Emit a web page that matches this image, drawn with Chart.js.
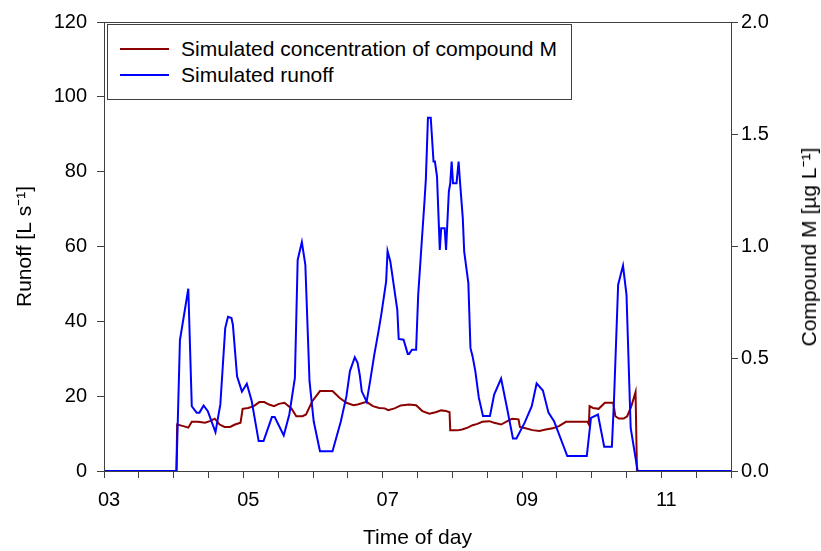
<!DOCTYPE html>
<html>
<head>
<meta charset="utf-8">
<script src="https://cdn.jsdelivr.net/npm/chart.js@4.4.1/dist/chart.umd.min.js"></script>
<style>
  html, body { margin: 0; padding: 0; background: #fff; }
  #wrap { position: relative; width: 821px; height: 551px; font-family: 'Liberation Sans', Arial, sans-serif; }
  #legend { position: absolute; left: 107px; top: 24px; width: 465px; height: 76px; border: 1px solid #404040; box-sizing: border-box; background: #fff; }
  .item { position: absolute; left: 12px; font-size: 21px; color: #000; line-height: 24px; }
  .item span.swatch { position: absolute; left: 0; top: 11px; width: 49px; height: 2px; }
  .item span.txt { position: absolute; left: 61px; top: 0; white-space: nowrap; }
  #rtitle { position: absolute; left: 808px; top: 247px; transform: translate(-50%, -50%) rotate(-90deg); font-size: 21px; color: #000; white-space: nowrap; }
</style>
</head>
<body>
<div id="wrap">
  <canvas id="chart" width="821" height="551"></canvas>
  <div id="legend">
    <div class="item" style="top:12px"><span class="swatch" style="background:#8b0000"></span><span class="txt">Simulated concentration of compound M</span></div>
    <div class="item" style="top:38px"><span class="swatch" style="background:#0000ff"></span><span class="txt">Simulated runoff</span></div>
  </div>
  <div id="rtitle">Compound M [µg L⁻¹]</div>
</div>
<script>
// time of day in hours, runoff in L/s
const runoffTimes = [3.0, 4.04, 4.09, 4.21, 4.26, 4.33, 4.37, 4.43, 4.49, 4.60, 4.67, 4.74, 4.78, 4.83, 4.85, 4.91, 4.98, 5.05, 5.12, 5.22,
  5.29, 5.41, 5.45, 5.58, 5.66, 5.74, 5.78, 5.84, 5.89, 5.95, 6.01, 6.10, 6.28, 6.40, 6.48, 6.53, 6.60, 6.64, 6.67, 6.70,
  6.77, 6.82, 6.88, 6.94, 6.98, 7.05, 7.07, 7.11, 7.21, 7.23, 7.30, 7.36, 7.38, 7.42, 7.48, 7.51, 7.56, 7.60, 7.62, 7.65,
  7.69, 7.73, 7.75, 7.78, 7.82, 7.84, 7.89, 7.91, 7.95, 7.97, 7.99, 8.01, 8.06, 8.09, 8.11, 8.15, 8.17, 8.23, 8.26, 8.29,
  8.33, 8.38, 8.44, 8.54, 8.60, 8.70, 8.78, 8.87, 8.92, 9.04, 9.14, 9.21, 9.30, 9.38, 9.46, 9.65, 9.93, 9.99, 10.09, 10.18,
  10.29, 10.32, 10.38, 10.45, 10.50, 10.56, 10.66, 12.0];
const runoff = [0, 0, 35, 48.7, 17.3, 15.6, 15.6, 17.5, 16, 10.4, 17.8, 38.2, 41.2, 40.9, 39.1, 25.3, 21.2, 23.3, 18.7, 8,
  8, 14.4, 14.4, 9.5, 15.1, 24.9, 56.4, 61.2, 55.1, 24, 13.3, 5.3, 5.3, 13.3, 20, 26.7, 30.4, 28.9, 25.8, 21.3,
  18.5, 24, 31.1, 37.3, 41.8, 50.7, 58.8, 56, 43.1, 35.3, 35.1, 31.3, 31.3, 32.4, 32.4, 47.1, 61, 72, 78, 94.4,
  94.4, 82.7, 82.7, 78.7, 59.1, 64.9, 64.9, 59.1, 74.7, 76.9, 82.7, 76.9, 76.9, 82.7, 77.3, 67.6, 58.7, 50.2, 32.9, 30.7,
  26.7, 19.6, 14.7, 14.7, 20.4, 24.7, 17.3, 8.7, 8.7, 13, 17.3, 23.4, 21.5, 15.6, 13.3, 4, 4, 14.2, 15.1, 6.5,
  6.5, 18.7, 49.8, 54.9, 47.1, 11.5, 0, 0];

// concentration of compound M in ug/L
const concTimes = [3.0, 4.04, 4.05, 4.14, 4.21, 4.26, 4.35, 4.45, 4.52, 4.59, 4.66, 4.73, 4.81, 4.88, 4.96, 4.99, 5.07, 5.15, 5.23, 5.30,
  5.37, 5.44, 5.51, 5.59, 5.69, 5.76, 5.85, 5.90, 5.99, 6.10, 6.28, 6.38, 6.48, 6.58, 6.64, 6.77, 6.86, 6.95, 7.03, 7.08,
  7.17, 7.26, 7.38, 7.48, 7.57, 7.67, 7.76, 7.84, 7.91, 7.96, 7.97, 8.07, 8.14, 8.22, 8.29, 8.36, 8.43, 8.53, 8.60, 8.70,
  8.79, 8.86, 8.95, 8.97, 9.05, 9.15, 9.25, 9.34, 9.44, 9.53, 9.63, 9.94, 9.96, 9.97, 10.02, 10.10, 10.19, 10.31, 10.34, 10.39,
  10.46, 10.51, 10.57, 10.63, 10.65, 12.0];
const conc = [0, 0, 0.207, 0.2, 0.193, 0.219, 0.219, 0.215, 0.222, 0.233, 0.207, 0.196, 0.196, 0.207, 0.215, 0.277, 0.281, 0.289, 0.307, 0.307,
  0.296, 0.289, 0.299, 0.304, 0.279, 0.244, 0.244, 0.252, 0.311, 0.356, 0.356, 0.326, 0.304, 0.293, 0.296, 0.308, 0.289, 0.281, 0.279, 0.271,
  0.279, 0.292, 0.296, 0.293, 0.267, 0.255, 0.262, 0.27, 0.267, 0.262, 0.181, 0.181, 0.185, 0.193, 0.204, 0.21, 0.219, 0.222, 0.215, 0.207,
  0.222, 0.233, 0.23, 0.196, 0.19, 0.182, 0.178, 0.185, 0.19, 0.2, 0.219, 0.219, 0.207, 0.289, 0.281, 0.277, 0.304, 0.304, 0.244, 0.234,
  0.234, 0.244, 0.289, 0.352, 0, 0];

const xTicks = [3, 5, 7, 9, 11];

const toPoints = (xs, ys) => xs.map((x, i) => ({ x: x, y: ys[i] }));

const tickFont = { family: "'Liberation Sans', Arial, sans-serif", size: 20 };
const titleFont = { family: "'Liberation Sans', Arial, sans-serif", size: 21 };
const axisColor = '#404040';

// plot frame (top edge is not drawn by any axis)
const framePlugin = {
  id: 'frame',
  afterDraw(chart) {
    const a = chart.chartArea;
    const c = chart.ctx;
    c.save();
    c.strokeStyle = axisColor;
    c.lineWidth = 1;
    c.strokeRect(a.left + 0.5, a.top + 0.5, a.right - a.left, a.bottom - a.top);
    c.restore();
  }
};

document.addEventListener('DOMContentLoaded', () => {
  const ctx = document.getElementById('chart');

  new Chart(ctx, {
    type: 'line',
    data: {
      datasets: [{
        label: 'Simulated runoff',
        data: toPoints(runoffTimes, runoff),
        borderColor: '#0000ff',
        borderWidth: 2,
        yAxisID: 'y'
      }, {
        label: 'Simulated concentration of compound M',
        data: toPoints(concTimes, conc),
        borderColor: '#8b0000',
        borderWidth: 2,
        yAxisID: 'y2'
      }]
    },
    options: {
      responsive: false,
      animation: false,
      layout: { padding: { top: 20, left: 0, right: 0, bottom: 0 } },
      elements: { point: { radius: 0 }, line: { tension: 0 } },
      plugins: { legend: { display: false }, tooltip: { enabled: false } },
      scales: {
        x: {
          type: 'linear', min: 3, max: 12,
          afterFit: (s) => { s.height = 80; },
          border: { color: axisColor },
          grid: { drawOnChartArea: false, tickLength: 7, tickColor: axisColor },
          ticks: {
            stepSize: 0.5, autoSkip: false, maxRotation: 0, padding: 10, labelOffset: 5, color: '#000', font: tickFont,
            callback: (v) => xTicks.includes(v) ? String(v).padStart(2, '0') : ''
          },
          title: { display: true, text: 'Time of day', color: '#000', font: titleFont, padding: { top: 0, bottom: 0 } }
        },
        y: {
          position: 'left', min: 0, max: 120,
          afterFit: (s) => { s.width = 104; },
          border: { color: axisColor },
          grid: { drawOnChartArea: false, tickLength: 7, tickColor: axisColor },
          ticks: { stepSize: 20, padding: 10, color: '#000', font: tickFont },
          title: { display: true, text: 'Runoff [L s⁻¹]', color: '#000', font: titleFont, padding: { top: 13, bottom: 0 } }
        },
        y2: {
          position: 'right', min: 0, max: 2,
          afterFit: (s) => { s.width = 90; },
          border: { color: axisColor },
          grid: { drawOnChartArea: false, tickLength: 7, tickColor: axisColor },
          ticks: { stepSize: 0.5, padding: 3, color: '#000', font: tickFont, callback: (v) => v.toFixed(1) }
        }
      }
    },
    plugins: [framePlugin]
  });
});
</script>
</body>
</html>
